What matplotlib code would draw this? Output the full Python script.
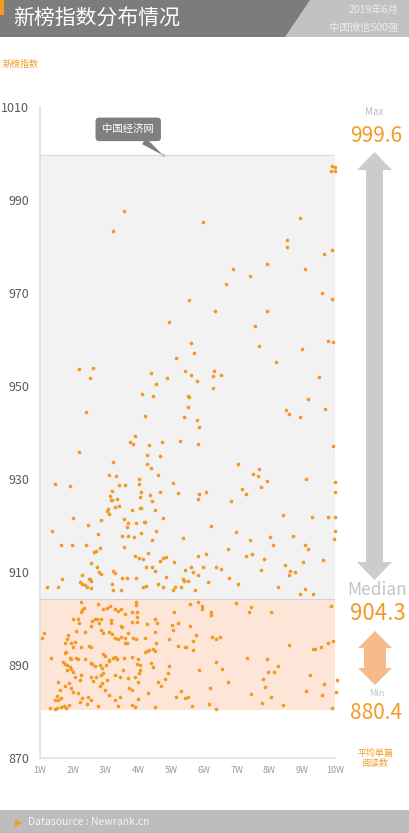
import matplotlib
matplotlib.use('Agg')
import matplotlib.pyplot as plt
from matplotlib.patches import Polygon, Rectangle

plt.rcParams['font.family'] = ['Noto Sans CJK SC', 'DejaVu Sans']
plt.rcParams['font.weight'] = 'light'

# Summary values
MAX_VAL = 999.6
MEDIAN_VAL = 904.3
MIN_VAL = 880.4

# Top account (annotated)
top_name = '中国经济网'
top_x = 4.76
top_y = 999.6

# Points above the median (grey band)
upper_x = [9.92, 10.01, 9.89, 10.0, 3.57, 3.22, 5.96, 8.93, 8.55, 8.55, 9.92, 9.67, 9.08, 6.88, 7.93, 7.40, 6.67,
           5.56, 4.93, 5.60, 5.70, 5.15, 2.18, 2.63, 2.52, 4.39, 5.41, 5.62, 4.88, 4.54, 5.80, 4.11, 4.45, 5.51, 5.54,
           5.53, 2.39, 4.19, 5.38, 5.79, 5.85, 3.89, 3.74, 3.84, 4.32, 4.71, 5.28, 5.83, 2.20, 4.27, 4.66, 3.23, 4.25,
           4.40, 3.11, 3.32, 4.59, 4.03, 4.03, 1.47, 1.91, 3.42, 3.60, 5.06, 3.20, 5.20, 4.09, 4.66, 5.85, 3.14, 4.36,
           3.16, 3.20, 3.34, 4.06, 4.42, 5.83, 3.28, 3.42, 3.07, 3.05, 4.51, 3.80, 4.04, 4.08, 3.09, 2.86, 2.00, 3.57,
           4.76, 2.46, 3.67, 4.16, 4.19, 3.94, 3.65, 1.36, 2.78, 4.53, 3.50, 3.68, 3.88, 4.07, 5.35, 4.42, 1.64, 1.98,
           2.40, 3.56, 2.64, 2.71, 2.82, 4.29, 3.91, 4.01, 4.13, 5.82, 4.66, 4.76, 4.85, 5.09, 2.55, 4.22, 4.42, 4.50,
           5.42, 5.61, 5.66, 2.79, 2.85, 2.73, 3.22, 3.28, 2.28, 2.50, 2.54, 3.50, 1.67, 4.83, 5.35,
           1.22, 1.55, 2.21, 2.29, 2.37, 2.56, 2.42, 2.55, 3.19, 3.23, 3.64, 3.48, 3.94, 4.13, 4.24, 4.60, 4.75, 5.05,
           5.11, 5.31, 5.39,
           9.60, 9.91, 6.33, 7.92, 7.56, 7.69, 8.99, 9.78, 9.93, 8.19, 6.31, 6.28, 6.53, 6.27, 9.52, 9.18, 9.68, 8.50,
           8.60, 8.92, 9.95, 7.03, 7.68, 7.50, 7.65, 7.94, 7.75, 7.16, 7.28, 9.12, 10.01, 9.99, 6.07, 6.82, 8.42, 9.30,
           9.78, 10.01, 6.21, 10.01, 9.97, 6.97, 7.42, 8.03, 8.11, 8.71, 9.09, 9.19, 6.73, 6.06, 7.28, 7.48, 7.83,
           9.64, 9.01, 8.47, 5.96, 6.38, 6.51, 7.73, 8.64, 8.78, 8.60, 6.76,
           5.83, 5.50, 5.74, 6.13, 7.03, 8.25, 9.08, 8.93, 9.33]
upper_y = [997.4, 997.0, 996.2, 996.2, 987.7, 983.3, 985.2, 986.1, 981.5, 980.0, 979.3, 978.4, 975.1, 975.1, 976.2,
           973.7, 971.9,
           968.6, 963.8, 959.2, 957.0, 956.0, 953.7, 953.9, 951.8, 952.9, 953.2, 952.4, 951.7, 950.5, 951.0, 948.2,
           947.9, 947.9, 947.6, 945.5, 944.4, 943.6, 943.3, 942.7, 941.2, 939.3, 938.0, 937.5, 937.4, 938.0, 938.1,
           937.5, 935.9, 935.2, 934.9, 933.7, 933.2, 932.4, 930.9, 930.6, 930.9, 929.9, 928.9, 928.9, 928.4, 928.8,
           928.8, 929.1, 927.4, 927.0, 927.1, 927.1, 926.8, 926.3, 926.6, 925.5, 925.5, 925.6, 926.1, 925.2, 925.8,
           924.0, 924.2, 923.6, 923.2, 923.4, 923.3, 923.7, 923.7, 922.5, 921.2, 921.7, 921.3, 921.7, 920.2, 920.5,
           920.7, 920.7, 920.5, 919.7, 918.9, 918.2, 918.8, 917.7, 917.8, 917.6, 918.4, 917.4, 916.8, 915.7, 915.9,
           915.7, 915.4, 914.4, 914.5, 915.2, 914.0, 913.4, 913.1, 912.9, 913.4, 912.4, 913.0, 913.3, 912.1, 911.9,
           911.0, 911.1, 910.3, 910.5, 911.0, 909.9, 910.1, 909.6, 911.0, 910.3, 909.7, 909.4, 908.6, 908.6, 908.8,
           908.6, 908.9, 908.6,
           906.7, 906.8, 907.9, 907.5, 907.3, 908.1, 906.7, 906.5, 907.4, 906.1, 908.7, 906.1, 908.7, 906.7, 907.0,
           907.4, 906.7, 906.1, 906.8, 906.8, 908.1,
           969.9, 968.7, 966.2, 966.2, 963.0, 958.5, 957.9, 959.7, 959.5, 955.2, 953.3, 952.2, 952.4, 949.5, 951.9,
           947.1, 945.0, 944.8, 943.9, 943.4, 937.2, 933.2, 932.1, 931.0, 930.6, 929.5, 928.3, 927.9, 926.8, 930.1,
           929.3, 927.3, 927.1, 925.3, 922.3, 921.8, 921.8, 921.8, 920.0, 918.8, 917.0, 918.5, 916.9, 917.5, 915.7,
           917.7, 915.7, 915.0, 914.9, 913.8, 913.5, 913.9, 912.7, 912.5, 912.2, 911.6, 911.1, 911.0, 910.6, 910.4,
           910.3, 909.9, 909.3, 908.8,
           909.4, 908.1, 906.1, 907.9, 907.4, 906.7, 906.3, 905.2, 905.2]

# Points between min and median (orange band)
lower_x = [2.26, 2.77, 2.93, 3.05, 3.15, 3.30, 3.38, 3.48, 3.60, 3.80, 3.92, 3.92, 3.96, 3.95, 2.24, 2.29, 2.34,
           2.01, 2.16, 2.18, 2.59, 2.67, 2.75, 2.85, 2.79, 3.17, 3.17, 3.48, 3.51, 3.81, 3.95, 4.27, 4.50, 4.56,
           2.56, 2.36, 2.11, 2.87, 2.93, 3.12, 3.19, 3.28, 3.38, 3.48, 3.60, 3.66, 3.84, 3.94, 4.19, 4.50, 5.05,
           5.02, 5.21, 5.09, 4.95, 1.85, 1.83, 1.95, 2.08, 1.77, 2.01, 2.26, 2.51, 2.56, 1.78, 1.75, 1.12, 1.06,
           1.33, 1.90, 1.95, 2.11, 2.16, 2.36, 1.70, 1.77, 1.83, 1.91, 1.83, 1.95, 2.01, 2.55, 2.59, 2.69, 2.83,
           2.89, 2.93, 3.02, 3.09, 3.23, 3.30, 3.34, 3.56, 3.80, 3.99, 3.97, 4.04, 4.21, 4.27, 4.32, 4.45, 4.50,
           4.38, 4.95, 5.21, 5.41, 4.04, 4.01, 3.43, 3.68, 3.89, 3.99, 3.28, 2.26, 2.21, 2.06, 2.55, 2.62, 2.72,
           2.87, 2.89, 3.05, 2.83, 2.97, 1.55, 1.60, 1.51, 1.47, 1.55, 1.63, 1.75, 1.87, 1.95, 2.01, 2.16, 2.28,
           2.21, 2.46, 2.56, 3.12, 3.28, 3.43, 1.30, 1.45, 1.53, 1.65, 1.73, 1.80, 1.87, 2.44, 2.77, 3.38, 3.80,
           3.89, 3.99, 4.52, 4.29, 4.60, 4.70, 4.45, 3.73, 3.81, 5.31, 5.16, 5.41, 4.92, 4.80, 4.55, 3.53, 2.92,
           2.99, 3.10, 3.60, 3.68,
           5.57, 5.83, 5.95, 5.93, 6.21, 6.21, 6.97, 7.43, 7.37, 8.06, 9.87, 5.57, 5.76, 5.67, 6.25, 6.37, 6.49,
           5.44, 5.67, 8.60, 9.33, 9.38, 9.57, 9.79, 9.94, 7.30, 6.37, 7.94, 6.56, 5.85, 7.96, 8.13, 8.27, 7.79,
           6.74, 9.23, 10.05, 7.86, 6.18, 9.67, 10.02, 9.10, 7.45, 8.04, 9.59, 5.50, 7.76, 8.40, 6.15, 5.64, 6.36,
           9.92]
lower_y = [903.6, 903.1, 902.0, 902.2, 902.7, 902.0, 901.7, 902.0, 901.0, 901.5, 902.9, 903.6, 901.5, 900.4, 901.3,
           901.8, 902.3, 899.8, 900.0, 899.0, 899.5, 899.8, 900.0, 899.8, 899.1, 899.6, 899.1, 898.4, 898.1, 899.3,
           899.3, 898.8, 899.8, 899.0, 898.4, 897.2, 897.4, 897.5, 896.8, 897.2, 896.6, 895.9, 895.5, 896.0, 894.7,
           894.7, 895.7, 895.5, 895.7, 897.2, 897.5, 898.6, 899.1, 901.3, 895.5, 896.4, 895.5, 894.8, 895.0, 894.7,
           893.8, 893.9, 894.1, 893.8, 892.9, 892.5, 896.8, 895.7, 891.5, 891.5, 891.2, 891.5, 891.2, 891.3, 890.7,
           890.2, 890.0, 889.5, 888.9, 889.1, 888.6, 890.5, 890.2, 889.8, 890.0, 889.3, 888.3, 890.0, 891.0, 891.5,
           891.7, 891.2, 891.5, 891.8, 891.2, 890.2, 890.0, 892.9, 893.1, 893.2, 893.4, 893.1, 890.5, 889.8, 894.1,
           893.9, 888.9, 888.2, 887.5, 887.2, 887.4, 886.4, 887.9, 887.9, 886.8, 887.4, 887.5, 886.6, 887.4, 887.9,
           886.1, 886.8, 885.4, 884.6, 886.4, 884.6, 883.3, 882.5, 882.5, 882.9, 885.4, 886.1, 885.0, 884.3, 883.9,
           882.9, 882.1, 883.2, 882.5, 883.6, 882.5, 883.2, 880.7, 880.6, 880.7, 880.9, 881.1, 880.7, 881.3, 881.6,
           881.1, 881.1, 881.3, 880.9, 882.6, 880.9, 883.9, 886.4, 885.4, 889.5, 885.0, 884.6, 884.4, 883.2, 882.9,
           888.2, 887.0, 894.7, 888.9, 892.4, 892.0, 890.9, 895.7, 896.8,
           903.1, 903.6, 902.7, 902.0, 901.5, 900.8, 903.3, 902.4, 901.5, 901.3, 902.7, 898.4, 896.5, 895.2, 896.0,
           895.6, 896.0, 893.9, 893.2, 894.3, 893.4, 893.4, 893.9, 894.8, 895.2, 891.5, 890.6, 891.3, 889.1, 888.9,
           888.6, 888.5, 889.7, 887.0, 886.3, 887.9, 886.8, 885.3, 885.1, 885.9, 884.3, 884.5, 883.8, 883.2, 883.5,
           883.1, 881.8, 881.4, 881.6, 881.1, 880.5, 880.8]

x_ticks = [1, 2, 3, 4, 5, 6, 7, 8, 9, 10]
x_tick_labels = ['1W', '2W', '3W', '4W', '5W', '6W', '7W', '8W', '9W', '10W']
y_ticks = [870, 890, 910, 930, 950, 970, 990, 1010]

ORANGE = '#f39a26'
W, H = 409, 833


def fp(x, y):
    """pixel position (from top-left) -> figure fraction"""
    return x / W, 1 - y / H


fig = plt.figure(figsize=(W / 100, H / 100), dpi=100)
fig.patch.set_facecolor('white')

# header
fig.add_artist(Rectangle(fp(0, 37), 1, 37 / H, transform=fig.transFigure, color='#7c7c7c', lw=0))
fig.add_artist(Polygon([fp(310, 0), fp(409, 0), fp(409, 37), fp(285, 37)], closed=True,
                       transform=fig.transFigure, color='#c2c2c2', lw=0))
fig.add_artist(Rectangle(fp(0, 15), 4 / W, 15 / H, transform=fig.transFigure, color=ORANGE, lw=0))
fig.text(*fp(13, 19), '新榜指数分布情况', color='white', fontsize=15, va='center', ha='left')
fig.text(*fp(398, 10), '2019年6月', color='#ececec', fontsize=7.5, va='center', ha='right')
fig.text(*fp(398, 28), '中国微信500强', color='#ececec', fontsize=7.5, va='center', ha='right')
fig.text(*fp(3, 64), '新榜指数', color=ORANGE, fontsize=6.5, va='center', ha='left')

# footer
fig.add_artist(Rectangle(fp(0, 833), 1, 23 / H, transform=fig.transFigure, color='#bdbdbd', lw=0))
fig.add_artist(Polygon([fp(15, 819), fp(15, 827), fp(22, 823)], closed=True,
                       transform=fig.transFigure, color=ORANGE, lw=0))
fig.text(*fp(28, 822), 'Datasource : Newrank.cn', color='#f4f4f4', fontsize=7.5, va='center', ha='left')

# main axes
ax = fig.add_axes([40 / W, 75 / H, 295 / W, 651 / H])
ax.set_xlim(1, 10)
ax.set_ylim(870, 1010)
ax.axhspan(MEDIAN_VAL, MAX_VAL, color='#f2f2f2', lw=0, zorder=0)
ax.axhspan(MIN_VAL, MEDIAN_VAL, color='#fde6d8', lw=0, zorder=0)
ax.axhline(MAX_VAL, color='#dcdcdc', lw=0.8, zorder=1)
ax.axhline(MEDIAN_VAL, color='#d2d2d2', lw=0.8, zorder=1)

ax.scatter(upper_x, upper_y, s=7, color=ORANGE, lw=0, zorder=3, clip_on=False)
ax.scatter(lower_x, lower_y, s=7, color=ORANGE, lw=0, zorder=3, clip_on=False)
ax.scatter([top_x], [top_y], s=6, color='#e8b98a', lw=0, zorder=3)

ax.annotate(top_name, xy=(top_x, top_y), xytext=(-35, 26), textcoords='offset pixels',
            color='white', fontsize=7.5, ha='center', va='center',
            bbox=dict(boxstyle='round,pad=0.65,rounding_size=0.35', fc='#7f7f7f', ec='none'),
            arrowprops=dict(arrowstyle='wedge,tail_width=0.7', fc='#7f7f7f', ec='none',
                            shrinkA=0, shrinkB=0))

for side in ['top', 'right']:
    ax.spines[side].set_visible(False)
for side in ['left', 'bottom']:
    ax.spines[side].set_color('#e0e0e0')
    ax.spines[side].set_linewidth(1.2)
ax.set_facecolor('white')
ax.set_yticks(y_ticks)
ax.set_yticklabels([str(v) for v in y_ticks])
ax.set_xticks(x_ticks)
ax.set_xticklabels(x_tick_labels)
ax.tick_params(axis='y', length=0, pad=8, labelsize=9, labelcolor='#5a5a5a')
ax.tick_params(axis='x', length=0, pad=6, labelsize=6.5, labelcolor='#9a9a9a')


# right-hand summary
def double_arrow(cx, y0, y1, head_w, shaft_w, head_h, color):
    pts = [(cx, y0), (cx + head_w, y0 + head_h), (cx + shaft_w, y0 + head_h),
           (cx + shaft_w, y1 - head_h), (cx + head_w, y1 - head_h), (cx, y1),
           (cx - head_w, y1 - head_h), (cx - shaft_w, y1 - head_h),
           (cx - shaft_w, y0 + head_h), (cx - head_w, y0 + head_h)]
    fig.add_artist(Polygon([fp(x, y) for x, y in pts], closed=True,
                           transform=fig.transFigure, color=color, lw=0))


fig.text(*fp(374, 112), 'Max', color='#bdbdbd', fontsize=7, ha='center', va='center')
fig.text(*fp(376, 136), f'{MAX_VAL:.1f}', color=ORANGE, fontsize=15, ha='center', va='center')
double_arrow(374.5, 152, 580, 17.5, 8.5, 18, '#cccccc')
fig.text(*fp(377, 590), 'Median', color='#c4c4c4', fontsize=12.5, ha='center', va='center')
fig.text(*fp(378, 613), f'{MEDIAN_VAL:.1f}', color=ORANGE, fontsize=16, ha='center', va='center')
double_arrow(375, 631, 685, 17, 11, 17, '#f7bb8a')
fig.text(*fp(377, 694), 'Min', color='#c4c4c4', fontsize=6.5, ha='center', va='center')
fig.text(*fp(376, 713), f'{MIN_VAL:.1f}', color=ORANGE, fontsize=15, ha='center', va='center')
fig.text(*fp(375, 758), '平均单篇\n阅读数', color=ORANGE, fontsize=6.5, ha='center', va='center',
         linespacing=1.1)

fig.savefig('out.png', dpi=100)
